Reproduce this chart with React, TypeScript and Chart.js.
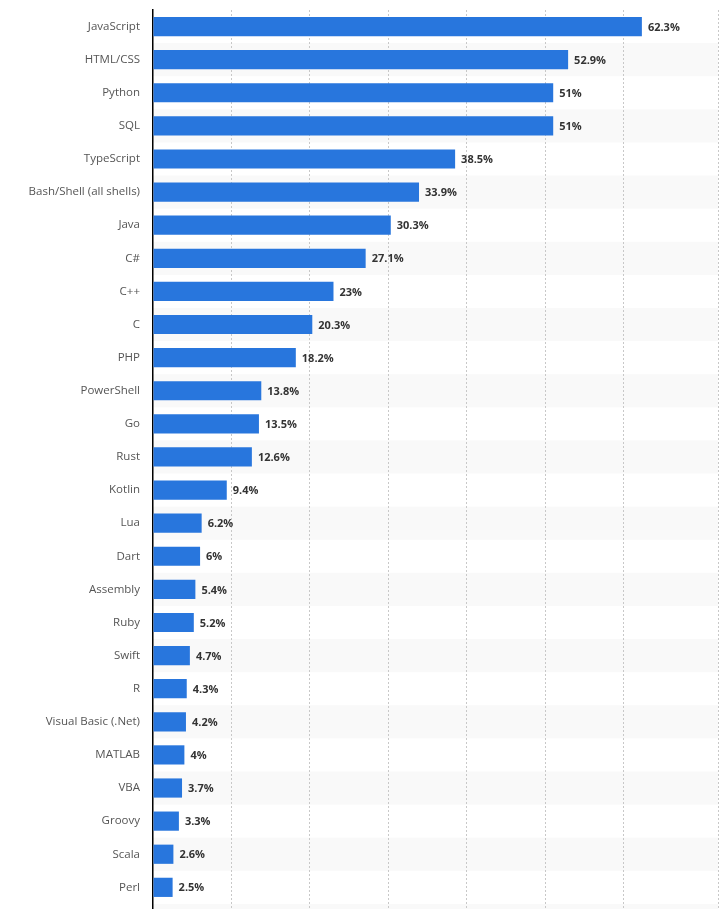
import React, { useEffect, useRef } from "react";
import { Chart, registerables } from "chart.js";

Chart.register(...registerables);

const categories = [
  "JavaScript", "HTML/CSS", "Python", "SQL", "TypeScript", "Bash/Shell (all shells)",
  "Java", "C#", "C++", "C", "PHP", "PowerShell", "Go", "Rust", "Kotlin", "Lua", "Dart",
  "Assembly", "Ruby", "Swift", "R", "Visual Basic (.Net)", "MATLAB", "VBA", "Groovy",
  "Scala", "Perl", "",
];
const shares: (number | null)[] = [
  62.3, 52.9, 51, 51, 38.5, 33.9, 30.3, 27.1, 23, 20.3, 18.2, 13.8, 13.5, 12.6, 9.4,
  6.2, 6, 5.4, 5.2, 4.7, 4.3, 4.2, 4, 3.7, 3.3, 2.6, 2.5, null,
];
const xMax = 72;
const xStep = 10;

const BAR = "#2876dd";
const STRIPE = "#f9f9f9";

const stripePlugin = {
  id: "stripes",
  beforeDraw(chart: any) {
    const { ctx, chartArea, scales } = chart;
    const y = scales.y;
    const n = categories.length;
    const band = (chartArea.bottom - chartArea.top) / n;
    ctx.save();
    ctx.fillStyle = STRIPE;
    for (let i = 0; i < n; i++) {
      if (i % 2 === 1) {
        const c = y.getPixelForValue(i);
        ctx.fillRect(chartArea.left, c - band / 2, chartArea.right - chartArea.left, band);
      }
    }
    ctx.restore();
  },
};

const labelPlugin = {
  id: "valueLabels",
  afterDatasetsDraw(chart: any) {
    const { ctx } = chart;
    const meta = chart.getDatasetMeta(0);
    ctx.save();
    ctx.font = "bold 11px 'Open Sans', sans-serif";
    ctx.fillStyle = "#333";
    ctx.textAlign = "left";
    ctx.textBaseline = "middle";
    meta.data.forEach((bar: any, i: number) => {
      const v = shares[i];
      if (v == null) return;
      ctx.fillText(`${v}%`, bar.x + 6, bar.y + 1);
    });
    ctx.restore();
  },
};

export default function App() {
  const ref = useRef<HTMLCanvasElement>(null);
  useEffect(() => {
    if (!ref.current) return;
    const chart = new Chart(ref.current, {
      type: "bar",
      data: {
        labels: categories,
        datasets: [
          {
            data: shares,
            backgroundColor: BAR,
            borderWidth: 0,
            barPercentage: 0.58,
            categoryPercentage: 1,
          },
        ],
      },
      options: {
        indexAxis: "y",
        animation: false,
        responsive: false,
        maintainAspectRatio: false,
        layout: { padding: { top: 10, right: 10, bottom: 0, left: 0 } },
        plugins: { legend: { display: false }, tooltip: { enabled: false } },
        scales: {
          x: {
            min: 0,
            max: xMax,
            position: "bottom",
            ticks: { display: false, stepSize: xStep, padding: 0 },
            grid: {
              color: (c: any) => (c.tick && c.tick.value === 0 ? "rgba(0,0,0,0)" : "#c8c8c8"),
              lineWidth: 1,
              drawTicks: false,
            },
            border: { display: false, dash: [2, 2] },
            afterFit(scale: any) {
              scale.height = 0;
              scale.paddingLeft = 0;
              scale.paddingRight = 0;
            },
          },
          y: {
            ticks: {
              color: "#555",
              font: { family: "'Open Sans', sans-serif", size: 11.5 },
              padding: 13,
            },
            grid: { display: false, drawTicks: false },
            border: { display: true, color: "#000", width: 1.5 },
            afterFit(scale: any) {
              scale.width = 153;
              scale.paddingTop = 0;
              scale.paddingBottom = 0;
            },
          },
        },
      },
      plugins: [stripePlugin, labelPlugin],
    });
    return () => chart.destroy();
  }, []);
  return (
    <div style={{ position: "fixed", left: 0, top: 0, width: 728, height: 909, overflow: "hidden", background: "#fff" }}>
      <canvas ref={ref} width={728} height={937} style={{ display: "block" }} />
    </div>
  );
}
